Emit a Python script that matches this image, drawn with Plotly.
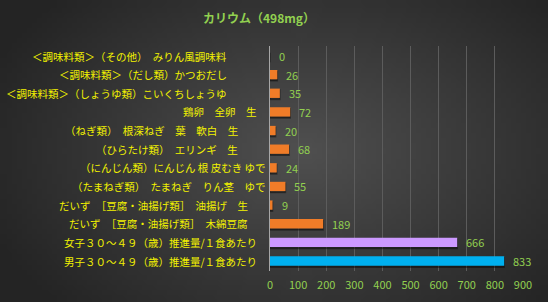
import base64, struct, zlib
import plotly.graph_objects as go

categories = [
    "＜調味料類＞（その他）　みりん風調味料",
    "＜調味料類＞（だし類）かつおだし",
    "＜調味料類＞（しょうゆ類）こいくちしょうゆ",
    "鶏卵　全卵　生",
    "（ねぎ類）　根深ねぎ　葉　軟白　生",
    "（ひらたけ類）　エリンギ　生",
    "（にんじん類）にんじん 根 皮むき ゆで",
    "（たまねぎ類）　たまねぎ　りん茎　ゆで",
    "だいず　［豆腐・油揚げ類］　油揚げ　生",
    "だいず　［豆腐・油揚げ類］　木綿豆腐",
    "女子３０～４９（歳）推進量/１食あたり",
    "男子３０～４９（歳）推進量/１食あたり",
]
values = [0, 26, 35, 72, 20, 68, 24, 55, 9, 189, 666, 833]
bar_colors = ["#f07c28"] * 10 + ["#cc99ff", "#00b0f0"]
x_ticks = [0, 100, 200, 300, 400, 500, 600, 700, 800, 900]
title_text = "カリウム（498mg）"

# style: trailing padding (px) of each category label from the axis
label_pad_px = [41, 41, 41, 11, 30, 30, 2, 2, 20, 20, 11, 11]

W, H = 548, 302
L, R, T, B = 270, 25, 46, 31
PW, PH = W - L - R, H - T - B
FONT = "Noto Sans CJK JP"


def make_bg(w, h):
    rows = []
    for j in range(h):
        row = bytearray()
        for i in range(w):
            fx = (i + 0.5) / w
            fy = (j + 0.5) / h
            d = (((fx - 0.55) / 0.62) ** 2 + ((fy - 0.5) / 0.75) ** 2) ** 0.5
            v = int(max(36, min(80, 80 - 44 * d)))
            row += bytes((v, v, v))
        rows.append(b"\x00" + bytes(row))
    raw = b"".join(rows)

    def chunk(t, data):
        c = struct.pack(">I", len(data)) + t + data
        return c + struct.pack(">I", zlib.crc32(t + data) & 0xFFFFFFFF)

    png = b"\x89PNG\r\n\x1a\n"
    png += chunk(b"IHDR", struct.pack(">IIBBBBB", w, h, 8, 2, 0, 0, 0))
    png += chunk(b"IDAT", zlib.compress(raw, 9))
    png += chunk(b"IEND", b"")
    return "data:image/png;base64," + base64.b64encode(png).decode()


fig = go.Figure()
# soft shadow under the bars
fig.add_trace(go.Bar(
    x=values, y=categories, orientation="h", width=0.5, offset=-0.17,
    marker=dict(color="rgba(0,0,0,0.35)", line=dict(width=1.5, color="rgba(0,0,0,0.35)")),
    hoverinfo="skip",
))
fig.add_trace(go.Bar(
    x=values, y=categories, orientation="h", width=0.5, offset=-0.25,
    marker=dict(color=bar_colors, line=dict(width=0)),
    hoverinfo="x+y",
))

for v, c in zip(values, categories):
    fig.add_annotation(
        x=v, y=c, text=str(v), showarrow=False, xanchor="left", xshift=7,
        font=dict(family=FONT, size=11, color="#92d050"),
    )

for c, pad in zip(categories, label_pad_px):
    fig.add_annotation(
        x=0, y=c, text=c, showarrow=False, xanchor="right", xshift=-pad,
        font=dict(family=FONT, size=10.5, color="#f2f200"),
    )

fig.add_layout_image(dict(
    source=make_bg(110, 60), xref="paper", yref="paper",
    x=-L / PW, y=1 + T / PH, sizex=W / PW, sizey=H / PH,
    xanchor="left", yanchor="top", sizing="stretch", layer="below",
))

fig.update_layout(
    width=W, height=H,
    margin=dict(l=L, r=R, t=T, b=B, pad=0),
    paper_bgcolor="#383838", plot_bgcolor="rgba(0,0,0,0)",
    barmode="overlay", showlegend=False,
    title=dict(text=title_text, x=259 / W, xanchor="center", y=1 - 19 / H, yanchor="middle",
               font=dict(family=FONT, size=12, color="#92d050", weight="bold")),
    xaxis=dict(range=[0, 900], tickvals=x_ticks, showgrid=True, gridcolor="#5c5c5c", gridwidth=1,
               zeroline=False, showline=False, ticks="", automargin=False,
               ticklabelstandoff=6,
               tickfont=dict(family=FONT, size=11, color="#92d050")),
    yaxis=dict(categoryorder="array", categoryarray=categories, autorange="reversed",
               showline=True, linecolor="#a6a6a6", linewidth=1, ticks="", showgrid=False,
               showticklabels=False, automargin=False),
)

fig.write_html("out.html")
